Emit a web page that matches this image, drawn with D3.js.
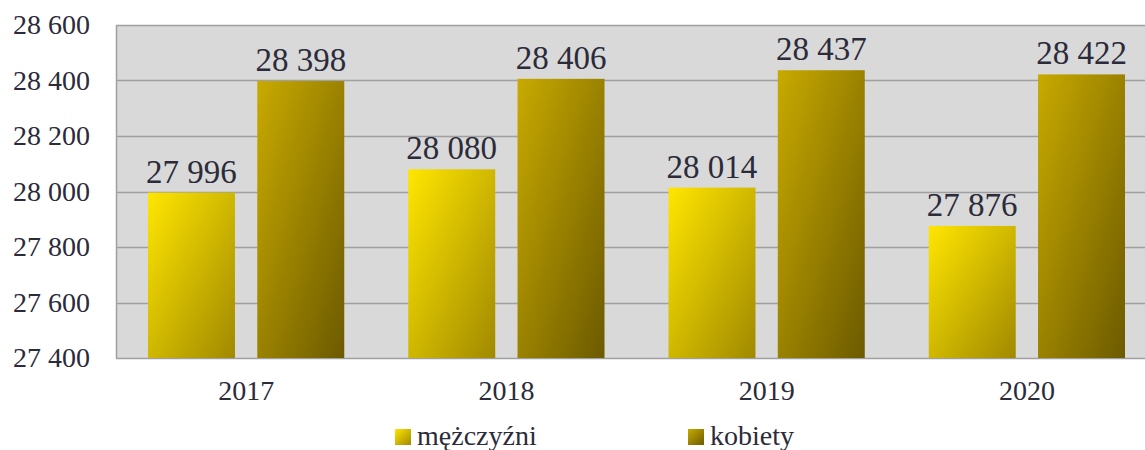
<!DOCTYPE html>
<html>
<head>
<meta charset="utf-8">
<script src="https://cdn.jsdelivr.net/npm/d3@7"></script>
<style>
  body { margin: 0; background: #fff; }
  svg text { font-family: "Liberation Serif", "DejaVu Serif", serif !important; }
</style>
</head>
<body>
<script>
// Chart data
const years = ["2017", "2018", "2019", "2020"];
const seriesNames = ["mężczyźni", "kobiety"];
const men = [27996, 28080, 28014, 27876];
const women = [28398, 28406, 28437, 28422];
const yTicks = [27400, 27600, 27800, 28000, 28200, 28400, 28600];

const data = years.map((year, i) => ({ year, values: [men[i], women[i]] }));

// Set constants
const totalWidth = 1145;
const totalHeight = 450;
const margin = { top: 25, left: 116, bottom: 92 };
const plotWidth = 1041; // runs slightly past the right edge, as in the source
const plotHeight = totalHeight - margin.top - margin.bottom;
const textColor = "#2b2b3a";

const fmt = (v) => d3.format(",")(v).replace(/,/g, " ");

const svg = d3
  .select("body")
  .append("svg")
  .attr("width", totalWidth)
  .attr("height", totalHeight);

// Gradients
const defs = svg.append("defs");
const gradients = [
  { id: "grad-men", from: "#ffe600", to: "#a08900" },
  { id: "grad-women", from: "#c8aa00", to: "#6c5a00" },
];
gradients.forEach((g) => {
  const lg = defs
    .append("linearGradient")
    .attr("id", g.id)
    .attr("x1", 0)
    .attr("y1", 0)
    .attr("x2", 1)
    .attr("y2", 1);
  lg.append("stop").attr("offset", "0%").attr("stop-color", g.from);
  lg.append("stop").attr("offset", "100%").attr("stop-color", g.to);
});

const chart = svg
  .append("g")
  .attr("transform", `translate(${margin.left},${margin.top})`);

// Scales
const x = d3.scaleBand().domain(years).range([0, plotWidth]);

const innerPad = 32;
const x1 = d3
  .scaleBand()
  .domain(d3.range(seriesNames.length))
  .range([innerPad, x.bandwidth() - innerPad])
  .paddingInner((20 / 196) * 2);

const y = d3.scaleLinear().domain([27400, 28600]).range([plotHeight, 0]);

// Plot background
chart
  .append("rect")
  .attr("width", plotWidth)
  .attr("height", plotHeight)
  .attr("fill", "#d9d9d9");

// Gridlines
chart
  .append("g")
  .selectAll("line")
  .data(yTicks)
  .join("line")
  .attr("x1", 0)
  .attr("x2", plotWidth)
  .attr("y1", (d) => Math.round(y(d)) + 0.5)
  .attr("y2", (d) => Math.round(y(d)) + 0.5)
  .attr("stroke", "#a0a0a0")
  .attr("stroke-width", 1.5);

// Left border
chart
  .append("line")
  .attr("x1", 0.5)
  .attr("x2", 0.5)
  .attr("y1", 0)
  .attr("y2", plotHeight)
  .attr("stroke", "#a0a0a0")
  .attr("stroke-width", 1.5);

// Y-axis tick labels
const yAxis = d3
  .axisLeft(y)
  .tickValues(yTicks)
  .tickFormat(fmt)
  .tickSize(0)
  .tickPadding(26);
chart
  .append("g")
  .call(yAxis)
  .call((g) => g.select(".domain").remove())
  .selectAll("text")
  .style("font-size", "28px")
  .attr("fill", textColor);

// X-axis labels
const xAxis = d3.axisBottom(x).tickSize(0).tickPadding(22);
chart
  .append("g")
  .attr("transform", `translate(0,${plotHeight})`)
  .call(xAxis)
  .call((g) => g.select(".domain").remove())
  .selectAll("text")
  .style("font-size", "28px")
  .attr("fill", textColor);

// Bars
const groups = chart
  .selectAll(".group")
  .data(data)
  .join("g")
  .attr("class", "group")
  .attr("transform", (d) => `translate(${x(d.year)},0)`);

groups
  .selectAll("rect")
  .data((d) => d.values.map((v, i) => ({ v, i })))
  .join("rect")
  .attr("x", (d) => x1(d.i))
  .attr("y", (d) => y(d.v))
  .attr("width", x1.bandwidth())
  .attr("height", (d) => plotHeight - y(d.v))
  .attr("fill", (d) => `url(#${gradients[d.i].id})`);

// Value labels
groups
  .selectAll(".value")
  .data((d) => d.values.map((v, i) => ({ v, i })))
  .join("text")
  .attr("class", "value")
  .attr("x", (d) => x1(d.i) + x1.bandwidth() / 2)
  .attr("y", (d) => y(d.v) - 10)
  .attr("text-anchor", "middle")
  .style("font-size", "33px")
  .attr("fill", textColor)
  .text((d) => fmt(d.v));

// Legend
const legendX = [395, 688];
const legend = svg
  .append("g")
  .selectAll("g")
  .data(seriesNames)
  .join("g")
  .attr("transform", (d, i) => `translate(${legendX[i]},429)`);

legend
  .append("rect")
  .attr("width", 16)
  .attr("height", 16)
  .attr("fill", (d, i) => `url(#${gradients[i].id})`);

legend
  .append("text")
  .attr("x", 22)
  .attr("y", 16)
  .style("font-size", "28px")
  .attr("fill", textColor)
  .text((d) => d);
</script>
</body>
</html>
